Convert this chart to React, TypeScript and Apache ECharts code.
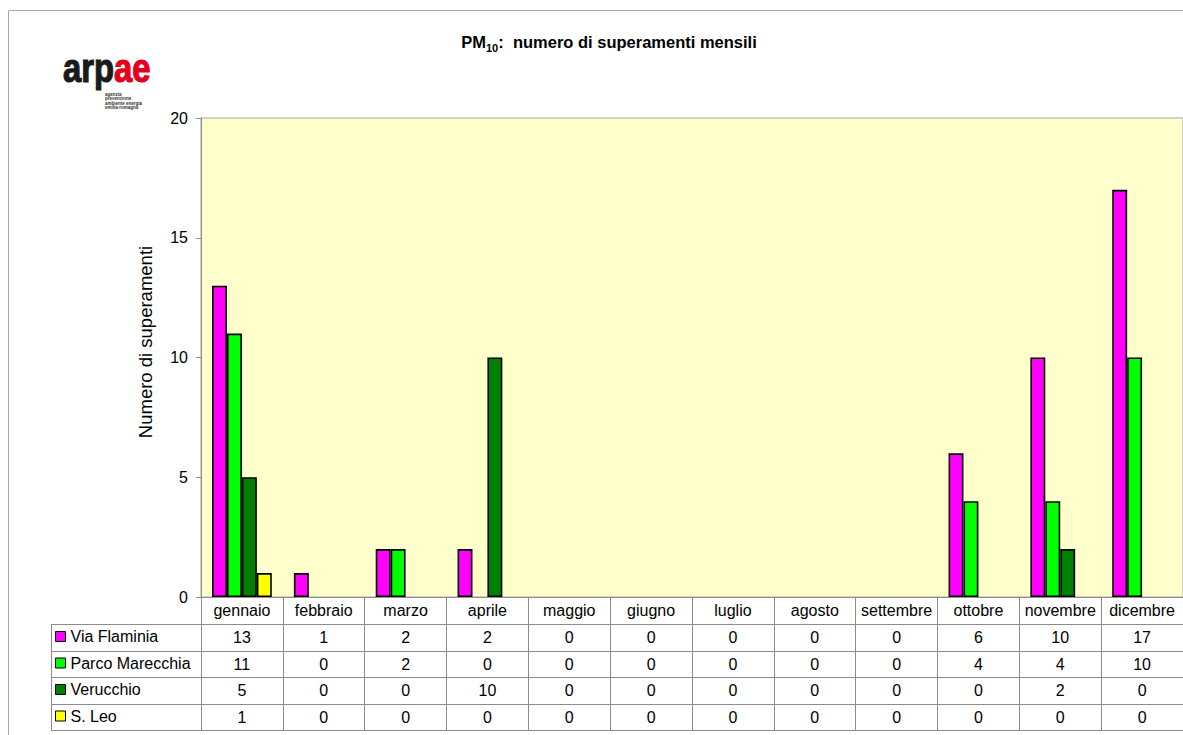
import React, { useEffect, useRef } from "react";
import * as echarts from "echarts";

const months = ["gennaio", "febbraio", "marzo", "aprile", "maggio", "giugno", "luglio", "agosto", "settembre", "ottobre", "novembre", "dicembre"];
const seriesNames = ["Via Flaminia", "Parco Marecchia", "Verucchio", "S. Leo"];
const viaFlaminia = [13, 1, 2, 2, 0, 0, 0, 0, 0, 6, 10, 17];
const parcoMarecchia = [11, 0, 2, 0, 0, 0, 0, 0, 0, 4, 4, 10];
const verucchio = [5, 0, 0, 10, 0, 0, 0, 0, 0, 0, 2, 0];
const sLeo = [1, 0, 0, 0, 0, 0, 0, 0, 0, 0, 0, 0];
const seriesColors = ["#FF00FF", "#00FF00", "#008000", "#FFFF00"];
const yMin = 0;
const yMax = 20;
const yStep = 5;

const FONT = "'Liberation Sans', Arial, Helvetica, sans-serif";

export default function App() {
  const ref = useRef<HTMLDivElement>(null);
  useEffect(() => {
    if (!ref.current) return;
    const chart = echarts.init(ref.current, null, { renderer: "svg" });
    const table = [viaFlaminia, parcoMarecchia, verucchio, sLeo];
    const rowOffsets = [0, 27, 54, 80, 107, 133];
    const lineColor = "#8c8c8c";
    const gridLeft = 201;
    const gridTop = 118;
    const gridBottomY = 597;

    const xAxes: any[] = [];
    for (let r = 0; r < rowOffsets.length; r++) {
      const isHeader = r === 0;
      const isLast = r === rowOffsets.length - 1;
      const dataRow = !isHeader && !isLast ? table[r - 1] : null;
      xAxes.push({
        type: "category",
        data: months,
        position: "bottom",
        offset: rowOffsets[r],
        axisLine: { show: true, lineStyle: { color: lineColor, width: 1 } },
        axisTick: {
          show: !isLast,
          interval: 0,
          alignWithLabel: false,
          length: isLast ? 0 : rowOffsets[r + 1] - rowOffsets[r],
          lineStyle: { color: lineColor, width: 1 },
        },
        axisLabel: {
          show: !isLast,
          interval: 0,
          margin: 5,
          fontSize: 16,
          color: "#000",
          fontFamily: FONT,
          formatter: isHeader
            ? (v: string) => v
            : (_v: string, i: number) => (dataRow ? String(dataRow[i]) : ""),
        },
        splitLine: { show: false },
      });
    }

    const series = table.map((vals, k) => ({
      name: seriesNames[k],
      type: "bar",
      xAxisIndex: 0,
      yAxisIndex: 0,
      barGap: "0%",
      barCategoryGap: "27%",
      itemStyle: { color: seriesColors[k], borderColor: "#000", borderWidth: 1.6 },
      data: vals.map((v) => (v === 0 ? { value: v, itemStyle: { borderWidth: 0 } } : { value: v })),
    }));

    const tableLeft = 51;
    const graphic: any[] = [
      {
        type: "rect",
        shape: { x: 8.5, y: 10.5, width: 1300, height: 900 },
        style: { fill: "none", stroke: "#a8a8a8", lineWidth: 1 },
        silent: true,
      },
      {
        type: "text",
        x: 63,
        y: 88,
        scaleX: 0.82,
        style: {
          text: "{k|arp}{r|ae}",
          textVerticalAlign: "bottom",
          rich: {
            k: { fontSize: 40, fontWeight: "bold", fill: "#1a1a1a", stroke: "#1a1a1a", lineWidth: 1.2, fontFamily: FONT },
            r: { fontSize: 40, fontWeight: "bold", fill: "#e2001a", stroke: "#e2001a", lineWidth: 1.2, fontFamily: FONT },
          },
        },
      },
      {
        type: "text",
        x: 105,
        y: 92,
        style: {
          text: "agenzia\nprevenzione\nambiente energia\nemilia-romagna",
          fontSize: 4.5,
          lineHeight: 4.5,
          fontWeight: "bold",
          fill: "#333",
          fontFamily: FONT,
        },
      },
      {
        type: "text",
        x: 609,
        y: 42,
        style: {
          text: "{b|PM}{s|10}{b|:  numero di superamenti mensili}",
          textAlign: "center",
          textVerticalAlign: "middle",
          rich: {
            b: { fontSize: 16.5, fontWeight: "bold", fill: "#000", fontFamily: FONT, lineHeight: 22 },
            s: { fontSize: 11, fontWeight: "bold", fill: "#000", fontFamily: FONT, lineHeight: 22, verticalAlign: "bottom", padding: [9, 0, 0, 0] },
          },
        },
      },
      {
        type: "text",
        x: 145,
        y: 342,
        rotation: Math.PI / 2,
        style: {
          text: "Numero di superamenti",
          textAlign: "center",
          textVerticalAlign: "middle",
          fontSize: 18.5,
          fill: "#000",
          fontFamily: FONT,
        },
      },
      {
        type: "line",
        shape: { x1: tableLeft + 0.5, y1: gridBottomY + rowOffsets[1], x2: tableLeft + 0.5, y2: gridBottomY + rowOffsets[rowOffsets.length - 1] },
        style: { stroke: lineColor, lineWidth: 1 },
        silent: true,
      },
    ];
    for (let r = 1; r < rowOffsets.length; r++) {
      graphic.push({
        type: "line",
        shape: { x1: tableLeft, y1: gridBottomY + rowOffsets[r] + 0.5, x2: gridLeft, y2: gridBottomY + rowOffsets[r] + 0.5 },
        style: { stroke: lineColor, lineWidth: 1 },
        silent: true,
      });
    }

    chart.setOption({
      animation: false,
      backgroundColor: "#fff",
      grid: {
        left: gridLeft,
        top: gridTop,
        width: 986,
        height: gridBottomY - gridTop,
        containLabel: false,
        show: true,
        backgroundColor: "#FFFFCC",
        borderColor: "#a8a8a8",
        borderWidth: 1,
      },
      legend: {
        data: seriesNames,
        orient: "vertical",
        left: 55,
        top: 628.5,
        padding: 0,
        itemWidth: 10,
        itemHeight: 10,
        itemGap: 10.5,
        icon: "rect",
        selectedMode: false,
        itemStyle: { borderColor: "#000", borderWidth: 1 },
        textStyle: { fontSize: 16, color: "#000", fontFamily: FONT, lineHeight: 16 },
      },
      xAxis: xAxes,
      yAxis: {
        type: "value",
        min: yMin,
        max: yMax,
        interval: yStep,
        axisLine: { show: true, lineStyle: { color: lineColor, width: 1 } },
        axisTick: { show: true, inside: false, length: 5, lineStyle: { color: lineColor } },
        axisLabel: { fontSize: 16, color: "#000", fontFamily: FONT, margin: 13 },
        splitLine: { show: false },
      },
      series,
      graphic,
    });
    return () => chart.dispose();
  }, []);
  return <div ref={ref} style={{ position: "absolute", left: 0, top: 0, width: 1183, height: 735 }} />;
}
